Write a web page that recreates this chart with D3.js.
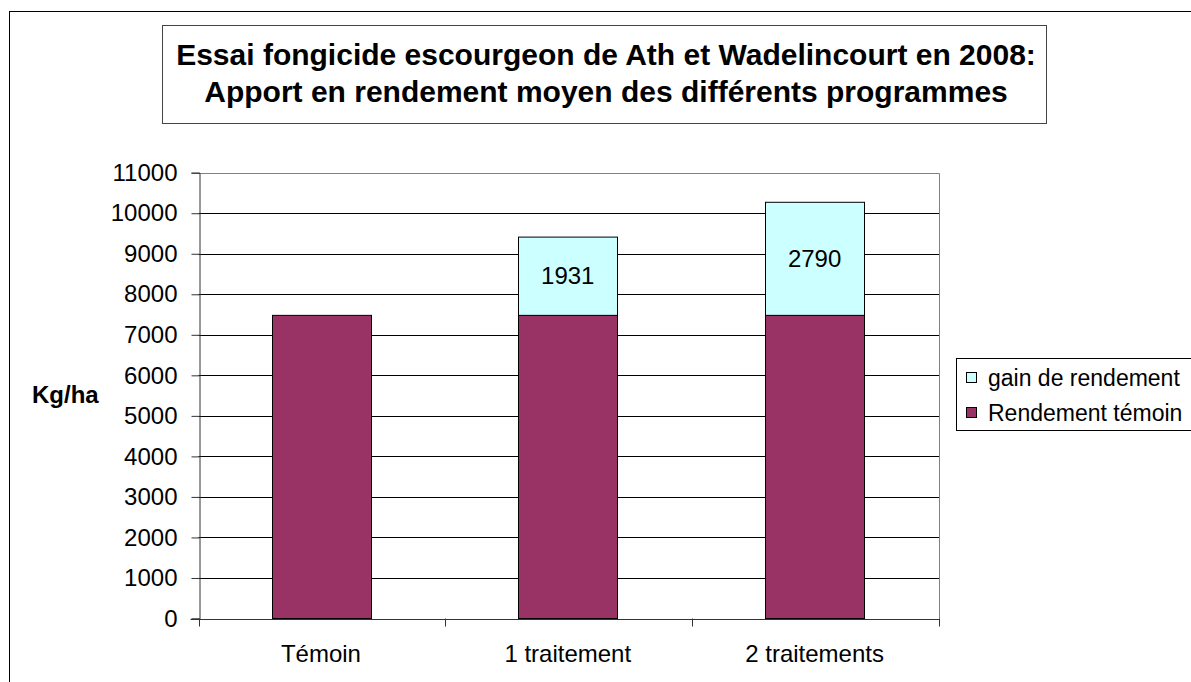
<!DOCTYPE html>
<html>
<head>
<meta charset="utf-8">
<script src="https://cdn.jsdelivr.net/npm/d3@7"></script>
<style>
  body { margin: 0; background: #fff; }
  svg { display: block; font-family: "Liberation Sans", Arial, sans-serif; }
</style>
</head>
<body>
<svg id="chart" width="1191" height="682"></svg>
<script>
'use strict';

const categories = ['Témoin', '1 traitement', '2 traitements'];
const baseYield = [7480, 7480, 7480];
const yieldGain = [0, 1931, 2790];
const yTicks = [0, 1000, 2000, 3000, 4000, 5000, 6000, 7000, 8000, 9000, 10000, 11000];
const titleLines = [
  'Essai fongicide escourgeon de Ath et Wadelincourt en 2008:',
  'Apport en rendement moyen des différents programmes'
];
const legendLabels = ['gain de rendement', 'Rendement témoin'];
const colors = { base: '#993366', gain: '#ccffff' };

const svg = d3.select('#chart');
const plot = { left: 198.5, right: 939, top: 172.7, bottom: 618.5 };

// outer chart frame (runs off the right and bottom edges)
svg.append('rect')
  .attr('x', 9.5).attr('y', 11.5)
  .attr('width', 1300).attr('height', 800)
  .attr('fill', 'none').attr('stroke', '#000');

// title box
svg.append('rect')
  .attr('x', 162.5).attr('y', 25.5)
  .attr('width', 884).attr('height', 98)
  .attr('fill', '#fff').attr('stroke', '#444');

svg.selectAll('text.title')
  .data(titleLines)
  .enter()
  .append('text')
    .attr('class', 'title')
    .attr('x', 606)
    .attr('y', (d, i) => 65 + i * 37)
    .attr('text-anchor', 'middle')
    .attr('font-size', 30)
    .attr('font-weight', 'bold')
    .text(d => d);

const x = d3.scaleBand()
  .domain(categories)
  .range([plot.left, plot.right])
  .paddingInner(0.6)
  .paddingOuter(0.3);

const y = d3.scaleLinear()
  .domain([0, 11000])
  .range([plot.bottom, plot.top]);

// gridlines
svg.append('g')
  .selectAll('line')
  .data(yTicks.filter(t => t > 0 && t < 11000))
  .enter()
  .append('line')
    .attr('x1', plot.left).attr('x2', plot.right)
    .attr('y1', d => Math.round(y(d)) + 0.5)
    .attr('y2', d => Math.round(y(d)) + 0.5)
    .attr('stroke', '#000');

// plot border top and right
svg.append('path')
  .attr('d', `M${plot.left},${Math.round(plot.top) + 0.5}H${Math.round(plot.right) + 0.5}V${plot.bottom}`)
  .attr('fill', 'none')
  .attr('stroke', '#808080');

// y axis
const yAxis = svg.append('g')
  .attr('transform', `translate(${Math.round(plot.left) + 0.5},0)`)
  .call(d3.axisLeft(y).tickValues(yTicks).tickSize(8).tickPadding(14).tickFormat(d3.format('d')));
yAxis.select('.domain').attr('stroke', '#333');
yAxis.selectAll('.tick line').attr('stroke', '#333');
yAxis.selectAll('.tick text')
  .attr('font-size', 24)
  .attr('font-family', '"Liberation Sans", Arial, sans-serif')
  .attr('fill', '#000');

// stacked bars
const bars = svg.append('g');
categories.forEach((c, i) => {
  bars.append('rect')
    .attr('x', Math.round(x(c)) - 0.5)
    .attr('y', y(baseYield[i]))
    .attr('width', Math.round(x.bandwidth()))
    .attr('height', y(0) - y(baseYield[i]))
    .attr('fill', colors.base)
    .attr('stroke', '#000');
  if (yieldGain[i] > 0) {
    const top = baseYield[i] + yieldGain[i];
    bars.append('rect')
      .attr('x', Math.round(x(c)) - 0.5)
      .attr('y', y(top))
      .attr('width', Math.round(x.bandwidth()))
      .attr('height', y(baseYield[i]) - y(top))
      .attr('fill', colors.gain)
      .attr('stroke', '#000');
    bars.append('text')
      .attr('x', x(c) + x.bandwidth() / 2 - 1)
      .attr('y', y(baseYield[i] + yieldGain[i] / 2) + 8)
      .attr('text-anchor', 'middle')
      .attr('font-size', 24)
      .text(yieldGain[i]);
  }
});

// x axis
const step = x.step();
const boundaries = categories.map(c => x(c) - step * x.paddingInner() / 2).concat([plot.right]);
const xAxis = svg.append('g');
xAxis.append('line')
  .attr('x1', plot.left - 8).attr('x2', plot.right)
  .attr('y1', Math.round(plot.bottom) + 0.5).attr('y2', Math.round(plot.bottom) + 0.5)
  .attr('stroke', '#333');
xAxis.selectAll('line.tick')
  .data(boundaries)
  .enter()
  .append('line')
    .attr('class', 'tick')
    .attr('x1', d => Math.round(d) + 0.5).attr('x2', d => Math.round(d) + 0.5)
    .attr('y1', plot.bottom).attr('y2', plot.bottom + 8)
    .attr('stroke', '#333');
xAxis.selectAll('text')
  .data(categories)
  .enter()
  .append('text')
    .attr('x', d => x(d) + x.bandwidth() / 2 - 1)
    .attr('y', 662)
    .attr('text-anchor', 'middle')
    .attr('font-size', 24)
    .text(d => d);

// y axis title
svg.append('text')
  .attr('x', 32)
  .attr('y', 403)
  .attr('font-size', 24)
  .attr('font-weight', 'bold')
  .text('Kg/ha');

// legend
const legend = svg.append('g');
legend.append('rect')
  .attr('x', 956.5).attr('y', 358.5)
  .attr('width', 300).attr('height', 72)
  .attr('fill', '#fff').attr('stroke', '#000');
const legendColors = [colors.gain, colors.base];
legendLabels.forEach((label, i) => {
  legend.append('rect')
    .attr('x', 966.5).attr('y', 372.5 + i * 35)
    .attr('width', 10).attr('height', 10)
    .attr('fill', legendColors[i]).attr('stroke', '#000');
  legend.append('text')
    .attr('x', 988)
    .attr('y', 386 + i * 35)
    .attr('font-size', 23)
    .text(label);
});
</script>
</body>
</html>
